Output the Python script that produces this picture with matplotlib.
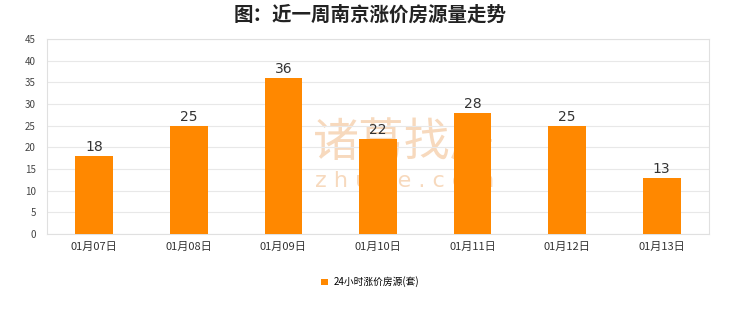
import matplotlib
matplotlib.use('Agg')
import matplotlib.pyplot as plt
import numpy as np

plt.rcParams['font.family'] = ['Noto Sans CJK SC', 'DejaVu Sans']

title = '图：近一周南京涨价房源量走势'
dates = ['01月07日', '01月08日', '01月09日', '01月10日', '01月11日', '01月12日', '01月13日']
counts = [18, 25, 36, 22, 28, 25, 13]
series_name = '24小时涨价房源(套)'
yticks = [0, 5, 10, 15, 20, 25, 30, 35, 40, 45]

fig = plt.figure(figsize=(7.4, 3.12), dpi=100)
ax = fig.add_axes([47/740, 1 - 234/312, 662/740, 195/312])

x = np.arange(len(dates))
bars = ax.bar(x, counts, width=0.4, color='#ff8800', zorder=3)
for xi, v in zip(x, counts):
    ax.text(xi, v + 0.4, str(v), ha='center', va='bottom', fontsize=10,
            color='#333333', family='DejaVu Sans', zorder=4)

ax.set_xlim(-0.5, len(dates) - 0.5)
ax.set_ylim(0, 45)
ax.set_yticks(yticks)
ax.set_yticklabels([str(t) for t in yticks], fontsize=7, color='#444444')
ax.set_xticks(x)
ax.set_xticklabels(dates, fontsize=8, color='#333333')
ax.tick_params(length=0, pad=6)
ax.tick_params(axis='y', pad=8)
ax.grid(axis='y', color='#e8e8e8', linewidth=0.8, zorder=0)
for s in ax.spines.values():
    s.set_color('#e0e0e0')
    s.set_linewidth(0.8)

# watermark, behind the bars
ax.text(3.28, 21.0, '诸葛找房', fontsize=33, color='#f7d9bd', ha='center', va='center',
        zorder=1)
ax.text(3.28, 12.3, 'z h u g e . c o m', fontsize=16, color='#f7d9bd', ha='center',
        va='center', family='DejaVu Sans', zorder=1)

fig.text(0.5, 1 - 15/312, title, ha='center', va='center', fontsize=14,
         fontweight='bold', color='#222222')

leg = fig.legend([bars], [series_name], loc='center', bbox_to_anchor=(0.5, 1 - 282/312),
                 frameon=False, fontsize=7, handlelength=0.7, handleheight=0.7,
                 handletextpad=0.6)

fig.savefig('out.png', dpi=100, facecolor='white')
